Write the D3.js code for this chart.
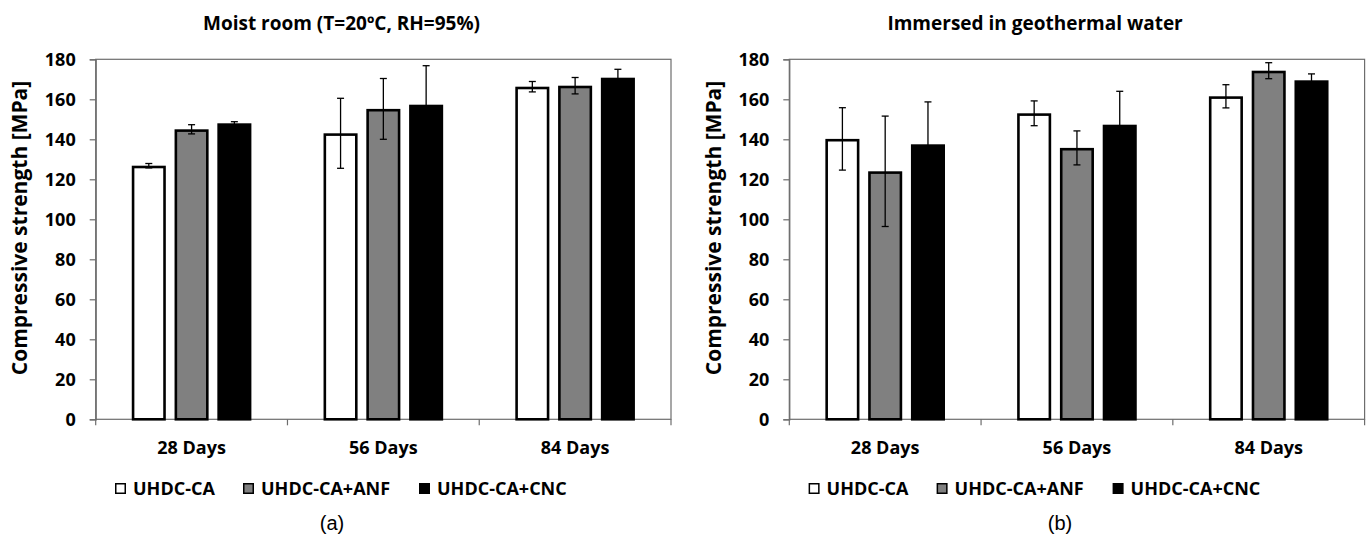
<!DOCTYPE html>
<html>
<head>
<meta charset="utf-8">
<script src="https://cdn.jsdelivr.net/npm/d3@7"></script>
<style>
  body { margin: 0; background: #fff; }
  svg { display: block; }
  .tick text { font-family: "Open Sans", sans-serif; font-weight: 700; font-size: 18px; fill: #000; }
</style>
</head>
<body>
<div id="chart"></div>
<script>
// categories and series
var categories = ["28 Days", "56 Days", "84 Days"];
var seriesNames = ["UHDC-CA", "UHDC-CA+ANF", "UHDC-CA+CNC"];
var seriesFill = ["#ffffff", "#808080", "#000000"];
var yTicks = [0, 20, 40, 60, 80, 100, 120, 140, 160, 180];

// (a) moist room - mean values per series, one value per category
var moistCA = [126.8, 143.0, 166.3];
var moistANF = [145.0, 155.2, 166.8];
var moistCNC = [148.0, 157.3, 170.8];
// (a) error bars (+/-)
var moistCAErr = [1.1, 17.5, 2.6];
var moistANFErr = [2.3, 15.2, 4.1];
var moistCNCErr = [0.8, 19.5, 4.2];

// (b) geothermal water
var geoCA = [140.2, 153.0, 161.5];
var geoANF = [124.0, 135.7, 174.3];
var geoCNC = [137.5, 147.3, 169.5];
var geoCAErr = [15.6, 6.2, 5.8];
var geoANFErr = [27.6, 8.5, 4.0];
var geoCNCErr = [21.2, 16.7, 3.2];

var width = 1367;
var height = 535;

var svg = d3.select("#chart")
  .append("svg")
  .attr("width", width)
  .attr("height", height);

var fontBold = "'Open Sans', sans-serif";

/**
* Draw one panel
*/
function drawPanel(offsetX, title, tag, tagX, means, errs) {
  var left = 95.7 + offsetX;
  var right = 671 + offsetX;
  var top = 59.3;
  var bottom = 419.3;

  var g = svg.append("g");

  var xScale = d3.scaleBand()
    .domain(categories)
    .range([left, right])
    .padding(0);

  var xInner = d3.scaleBand()
    .domain(seriesNames)
    .range([0, xScale.bandwidth()])
    .paddingInner(0.204)
    .paddingOuter(0.843);

  var yScale = d3.scaleLinear()
    .domain([0, 180])
    .range([bottom, top]);

  // plot area border
  g.append("rect")
    .attr("x", left)
    .attr("y", top)
    .attr("width", right - left)
    .attr("height", bottom - top)
    .attr("fill", "none")
    .attr("stroke", "#6d6d6d")
    .attr("stroke-width", 1.2);

  // y axis
  var yAxis = d3.axisLeft(yScale).tickValues(yTicks).tickSize(6).tickPadding(14);
  var ya = g.append("g")
    .attr("transform", "translate(" + left + ",0)")
    .call(yAxis);
  ya.select(".domain").attr("stroke", "#6d6d6d").attr("stroke-width", 1.2);
  ya.selectAll(".tick line").attr("stroke", "#6d6d6d").attr("stroke-width", 1.2);

  // x axis: labels only, separators drawn below
  var xAxis = d3.axisBottom(xScale).tickSize(0).tickPadding(22);
  var xa = g.append("g")
    .attr("transform", "translate(0," + bottom + ")")
    .call(xAxis);
  xa.select(".domain").remove();

  var bounds = categories.map(function(c) { return xScale(c); }).concat([right]);
  g.selectAll(".sep")
    .data(bounds)
    .enter()
    .append("line")
    .attr("x1", function(d) { return d; })
    .attr("x2", function(d) { return d; })
    .attr("y1", bottom)
    .attr("y2", bottom + 6)
    .attr("stroke", "#6d6d6d")
    .attr("stroke-width", 1.2);

  // bars
  var sw = 2.6;
  var rows = [];
  categories.forEach(function(c, ci) {
    seriesNames.forEach(function(s, si) {
      rows.push({ cat: c, ser: s, si: si, v: means[si][ci], e: errs[si][ci] });
    });
  });

  g.selectAll(".bar")
    .data(rows)
    .enter()
    .append("rect")
    .attr("class", "bar")
    .attr("x", function(d) { return xScale(d.cat) + xInner(d.ser) + sw / 2; })
    .attr("y", function(d) { return yScale(d.v) + sw / 2; })
    .attr("width", xInner.bandwidth() - sw)
    .attr("height", function(d) { return bottom - yScale(d.v) - sw / 2; })
    .attr("fill", function(d) { return seriesFill[d.si]; })
    .attr("stroke", "#000")
    .attr("stroke-width", sw);

  // error bars
  var cap = 3.5;
  var eb = g.selectAll(".err")
    .data(rows)
    .enter()
    .append("g")
    .attr("transform", function(d) {
      return "translate(" + (xScale(d.cat) + xInner(d.ser) + xInner.bandwidth() / 2) + ",0)";
    });
  eb.append("line")
    .attr("y1", function(d) { return yScale(d.v + d.e); })
    .attr("y2", function(d) { return yScale(d.v - d.e); })
    .attr("stroke", "#000")
    .attr("stroke-width", 1.3);
  eb.append("line")
    .attr("x1", -cap).attr("x2", cap)
    .attr("y1", function(d) { return yScale(d.v + d.e); })
    .attr("y2", function(d) { return yScale(d.v + d.e); })
    .attr("stroke", "#000")
    .attr("stroke-width", 1.3);
  eb.append("line")
    .attr("x1", -cap).attr("x2", cap)
    .attr("y1", function(d) { return yScale(d.v - d.e); })
    .attr("y2", function(d) { return yScale(d.v - d.e); })
    .attr("stroke", "#000")
    .attr("stroke-width", 1.3);

  // titles
  g.append("text")
    .attr("x", 341.5 + offsetX)
    .attr("y", 30)
    .attr("text-anchor", "middle")
    .style("font-family", fontBold)
    .style("font-weight", 700)
    .style("font-size", "19px")
    .text(title);

  g.append("text")
    .attr("transform", "translate(" + (27 + offsetX) + ",228)rotate(-90)")
    .attr("text-anchor", "middle")
    .style("font-family", fontBold)
    .style("font-weight", 700)
    .style("font-size", "21px")
    .text("Compressive strength [MPa]");

  // legend
  var legendX = [115, 243, 419];
  var lg = g.selectAll(".leg")
    .data(seriesNames)
    .enter()
    .append("g")
    .attr("transform", function(d, i) { return "translate(" + (legendX[i] + offsetX) + ",483)"; });
  lg.append("rect")
    .attr("x", 0.75).attr("y", 0.75)
    .attr("width", 9.5).attr("height", 9.5)
    .attr("fill", function(d, i) { return seriesFill[i]; })
    .attr("stroke", "#000")
    .attr("stroke-width", 1.5);
  lg.append("text")
    .attr("x", 18)
    .attr("y", 12)
    .style("font-family", fontBold)
    .style("font-weight", 700)
    .style("font-size", "18px")
    .text(function(d) { return d; });

  // panel tag
  g.append("text")
    .attr("x", tagX)
    .attr("y", 530)
    .attr("text-anchor", "middle")
    .style("font-family", "'Liberation Sans', Arial, sans-serif")
    .style("font-size", "20px")
    .text(tag);
}

drawPanel(0, "Moist room (T=20\u00baC, RH=95%)", "(a)", 332,
  [moistCA, moistANF, moistCNC], [moistCAErr, moistANFErr, moistCNCErr]);
drawPanel(693.6, "Immersed in geothermal water", "(b)", 1060,
  [geoCA, geoANF, geoCNC], [geoCAErr, geoANFErr, geoCNCErr]);
</script>
</body>
</html>
